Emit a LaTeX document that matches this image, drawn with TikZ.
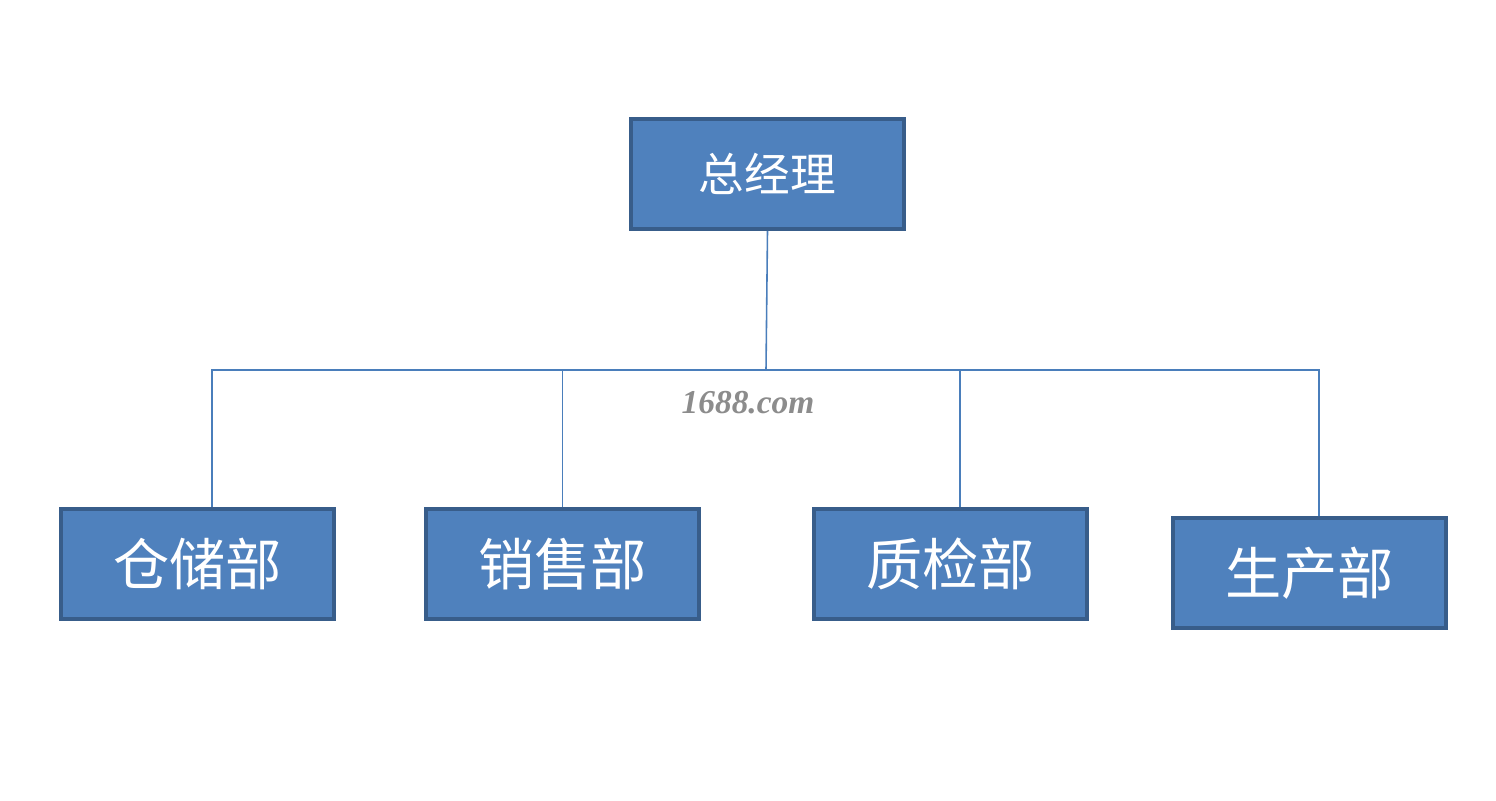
\documentclass[tikz,border=0pt]{standalone}
\usepackage{fontspec}
\setmainfont{Liberation Serif}
\newfontfamily\cjk{Noto Sans CJK SC}
\usetikzlibrary{positioning,calc}
\definecolor{steel}{RGB}{79,129,189}
\definecolor{steeldark}{RGB}{56,93,138}
\definecolor{wire}{RGB}{74,126,187}
\tikzset{
  dept/.style={draw=steeldark,fill=steel,line width=0.08cm,
    minimum width=5.46cm,minimum height=2.2cm,text=white,
    font=\cjk\fontsize{32}{36}\selectfont},
  link/.style={draw=wire,line width=0.9pt},
  watermark/.style={text=black!45,font=\bfseries\itshape\fontsize{19}{22}\selectfont},
}

\begin{document}
\begin{tikzpicture}
  \useasboundingbox (0,0) rectangle (29.92,16.02);
  \node[dept,font=\cjk\fontsize{26}{30}\selectfont] (gm) at (15.35,12.54) {总经理};
  \coordinate (hub) at (15.32,8.62);
  \draw[link] (gm.south) -- (hub);
  \foreach \n/\x/\y/\dx/\t in {store/3.95/4.74/0.29/仓储部,sales/11.25/4.74/0/销售部,
      qc/19.01/4.74/0.19/质检部,prod/26.19/4.56/0.19/生产部}{
    \node[dept] (\n) at (\x,\y) {\t};
    \draw[link] ([xshift=\dx cm]\n.north) |- (hub);
  }
  \node[watermark] (wm) at (14.96,7.96) {1688.com};
\end{tikzpicture}
\end{document}
